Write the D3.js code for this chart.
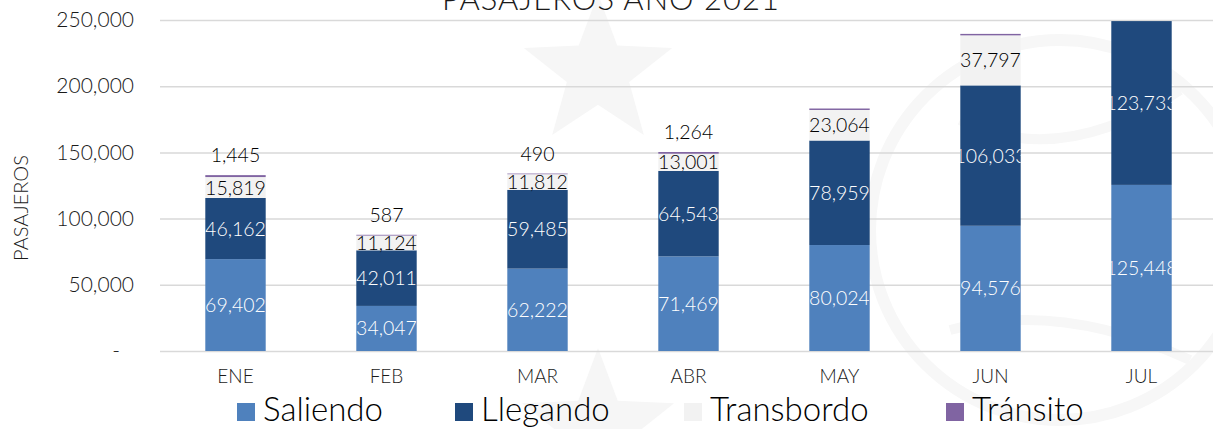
<!DOCTYPE html>
<html>
<head>
<meta charset="utf-8">
<script src="https://cdn.jsdelivr.net/npm/d3@7"></script>
<style>
  body { margin: 0; background: #fff; }
  svg { display: block; font-family: Lato, "Open Sans", sans-serif; font-weight: 300; }
</style>
</head>
<body>
<div id="graphicContainer"></div>
<script>

const months = ["ENE", "FEB", "MAR", "ABR", "MAY", "JUN", "JUL"]
const keys = ["Saliendo", "Llegando", "Transbordo", "Tránsito"]

const saliendo = [69402, 34047, 62222, 71469, 80024, 94576, 125448]
const llegando = [46162, 42011, 59485, 64543, 78959, 106033, 123733]
const transbordo = [15819, 11124, 11812, 13001, 23064, 37797, 0]
const transito = [1445, 587, 490, 1264, 1100, 1100, 0]
// labels that actually show on the chart (null = no label)
const transitoLabels = [1445, 587, 490, 1264, null, null, null]

const yTicks = [0, 50000, 100000, 150000, 200000, 250000]

const colors = {
  "Saliendo": "#4f81bd",
  "Llegando": "#1f497d",
  "Transbordo": "#f2f2f2",
  "Tránsito": "#8064a2"
}

const width = 1213
const height = 429
const marginleft = 160
const margintop = 20
const plotRight = 1217
const plotBottom = 351

const datum = months.map((m, i) => ({
  month: m,
  "Saliendo": saliendo[i],
  "Llegando": llegando[i],
  "Transbordo": transbordo[i],
  "Tránsito": transito[i],
  label: transitoLabels[i]
}))

const svg = d3.select("#graphicContainer")
  .append("svg")
  .attr("width", width)
  .attr("height", height)

// faint watermark behind the chart
const wm = svg.append("g").attr("fill", "#f6f6f6").attr("stroke", "none")

const starPath = (cx, cy, r) => {
  const pts = d3.range(10).map(i => {
    const a = -Math.PI / 2 + i * Math.PI / 5
    const rr = i % 2 ? r * 0.42 : r
    return [cx + rr * Math.cos(a), cy + rr * Math.sin(a)]
  })
  return "M" + pts.join("L") + "Z"
}

wm.append("path").attr("d", starPath(598, 72, 78))
wm.append("path").attr("d", starPath(598, 428, 80))

const emblem = svg.append("g").attr("fill", "none").attr("stroke", "#f7f7f7")
emblem.append("circle").attr("cx", 1060).attr("cy", 230).attr("r", 190).attr("stroke-width", 12)
emblem.append("path").attr("d", "M960,120 Q1060,170 1180,90").attr("stroke-width", 10)
emblem.append("path").attr("d", "M950,330 Q1060,300 1190,360").attr("stroke-width", 10)

const x = d3.scaleBand()
  .domain(months)
  .range([marginleft, plotRight])
  .paddingInner(0.6)
  .paddingOuter(0.3)

const y = d3.scaleLinear()
  .domain([0, 250000])
  .range([plotBottom, margintop])

const layers = d3.stack().keys(keys)(datum)

// gridlines
const grid = svg.append("g")
  .attr("class", "y")
  .attr("transform", "translate(" + marginleft + ",0)")
  .call(d3.axisLeft(y).tickValues(yTicks).tickSize(-(width - marginleft)).tickFormat(d => d === 0 ? "-" : d3.format(",")(d)))
  .attr("font-family", null)
  .attr("font-size", null)

grid.select(".domain").remove()
grid.selectAll(".tick line")
  .style("stroke", "#d9d9d9")
  .style("stroke-width", 1.5)
grid.selectAll(".tick text")
  .attr("x", -26)
  .style("font-size", "21px")
  .style("fill", "#1a1a1a")
grid.selectAll(".tick")
  .filter(d => d === 0)
  .select("text")
  .attr("dx", -14)

const clipBars = svg.append("defs")

const layer = svg.selectAll(".layer")
  .data(layers)
  .enter()
  .append("g")
  .attr("class", d => "layer " + d.key)
  .style("fill", d => colors[d.key])

layer.selectAll("rect")
  .data(d => d.map(s => Object.assign(s, { key: d.key })))
  .enter()
  .append("rect")
  .attr("x", d => x(d.data.month))
  .attr("y", d => y(Math.min(d[1], 250000)))
  .attr("width", x.bandwidth())
  .attr("height", d => Math.max(0, y(d[0]) - y(Math.min(d[1], 250000))))
  .attr("class", "barPart")

// clip paths so labels wider than the bar get cut off like the original
months.forEach((m, i) => {
  clipBars.append("clipPath")
    .attr("id", "clip" + i)
    .append("rect")
    .attr("x", x(m))
    .attr("y", 0)
    .attr("width", x.bandwidth())
    .attr("height", height)
})

const segLabels = svg.append("g").style("font-size", "19.5px")

layers.filter(l => l.key !== "Tránsito").forEach(l => {
  l.forEach((d, i) => {
    const v = d[1] - d[0]
    if (!v) return
    segLabels.append("text")
      .attr("clip-path", "url(#clip" + i + ")")
      .attr("x", x(d.data.month) + x.bandwidth() / 2)
      .attr("y", (y(d[0]) + y(Math.min(d[1], 250000))) / 2)
      .attr("dy", "0.36em")
      .attr("text-anchor", "middle")
      .style("fill", l.key === "Transbordo" ? "#000000" : "#ffffff")
      .text(d3.format(",")(v))
  })
})

// transito labels above the stacks
svg.append("g")
  .selectAll("text")
  .data(datum.filter(d => d.label !== null))
  .enter()
  .append("text")
  .attr("x", d => x(d.month) + x.bandwidth() / 2)
  .attr("y", d => y(d3.sum(keys, k => d[k])) - 20)
  .attr("dy", "0.36em")
  .attr("text-anchor", "middle")
  .style("font-size", "19.5px")
  .style("fill", "#000000")
  .text(d => d3.format(",")(d.label))

// x axis
const xAxis = svg.append("g")
  .attr("transform", "translate(0," + plotBottom + ")")
  .call(d3.axisBottom(x).tickSize(0).tickPadding(19))
  .attr("font-family", null)
  .attr("font-size", null)

xAxis.select(".domain").remove()
xAxis.selectAll("text")
  .style("font-size", "19px")
  .style("fill", "#1a1a1a")

// title
svg.append("text")
  .attr("x", 611)
  .attr("y", 10)
  .attr("text-anchor", "middle")
  .style("font-size", "31px")
  .style("fill", "#1a1a1a")
  .style("letter-spacing", "1px")
  .text("PASAJEROS AÑO 2021")

// y axis label
svg.append("text")
  .attr("transform", "translate(28,208) rotate(-90)")
  .attr("text-anchor", "middle")
  .style("font-size", "20px")
  .style("fill", "#1a1a1a")
  .text("PASAJEROS")

// legend
const legendX = [237, 455, 684, 946]
const legend = svg.append("g")
  .selectAll("g")
  .data(keys)
  .enter()
  .append("g")
  .attr("transform", (d, i) => "translate(" + legendX[i] + ",403)")

legend.append("rect")
  .attr("width", 18)
  .attr("height", 18)
  .style("fill", d => colors[d])

legend.append("text")
  .attr("x", 26)
  .attr("y", 18)
  .style("font-size", "33px")
  .style("fill", "#000000")
  .text(d => d)

</script>
</body>
</html>
